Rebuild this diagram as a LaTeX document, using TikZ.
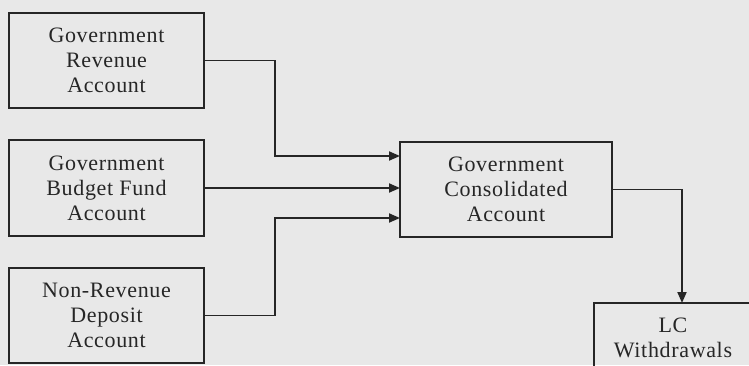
\documentclass[tikz,border=0pt]{standalone}
\usepackage{fontspec}
\setmainfont{Liberation Serif}[LetterSpace=3]
\usetikzlibrary{arrows.meta}

\begin{document}
\begin{tikzpicture}[x=1pt,y=-1pt,
    acct/.style={draw=black!85,line width=1.6pt,inner sep=0pt,outer sep=0pt,align=center,
                 text=black!85,font=\fontsize{22}{25}\selectfont},
    flow/.style={draw=black!85,line width=1.9pt,-{Triangle[length=11pt,width=9pt]}}]
                \useasboundingbox (0,0) rectangle (749,365);
                \clip (0,0) rectangle (749,365);
                \fill[black!9] (0,0) rectangle (749,365);
                \node[acct,minimum width=195pt,minimum height=95pt] (rev) at (106.5,60.5) {Government\\Revenue\\Account};
                \node[acct,minimum width=195pt,minimum height=96pt] (bud) at (106.5,188) {Government\\Budget Fund\\Account};
                \node[acct,minimum width=195pt,minimum height=95pt] (nonrev) at (106.5,315.5) {Non-Revenue\\Deposit\\Account};
                \node[acct,minimum width=212pt,minimum height=95pt] (cons) at (506,189.5) {Government\\Consolidated\\Account};
                \node[acct,minimum width=158pt,minimum height=70pt] (lc) at (673,338) {LC\\Withdrawals};
                \draw [flow] (rev.east) -- ++(71,0) |- ([yshift=33.5pt]cons.west);
                \draw [flow] (bud.east) -- (bud.east -| cons.west);
                \draw [flow] (nonrev.east) -- ++(71,0) |- ([yshift=-28.5pt]cons.west);
                \draw [flow] (cons.east) -| ([xshift=9pt]lc.north);
            \end{tikzpicture}
\end{document}
